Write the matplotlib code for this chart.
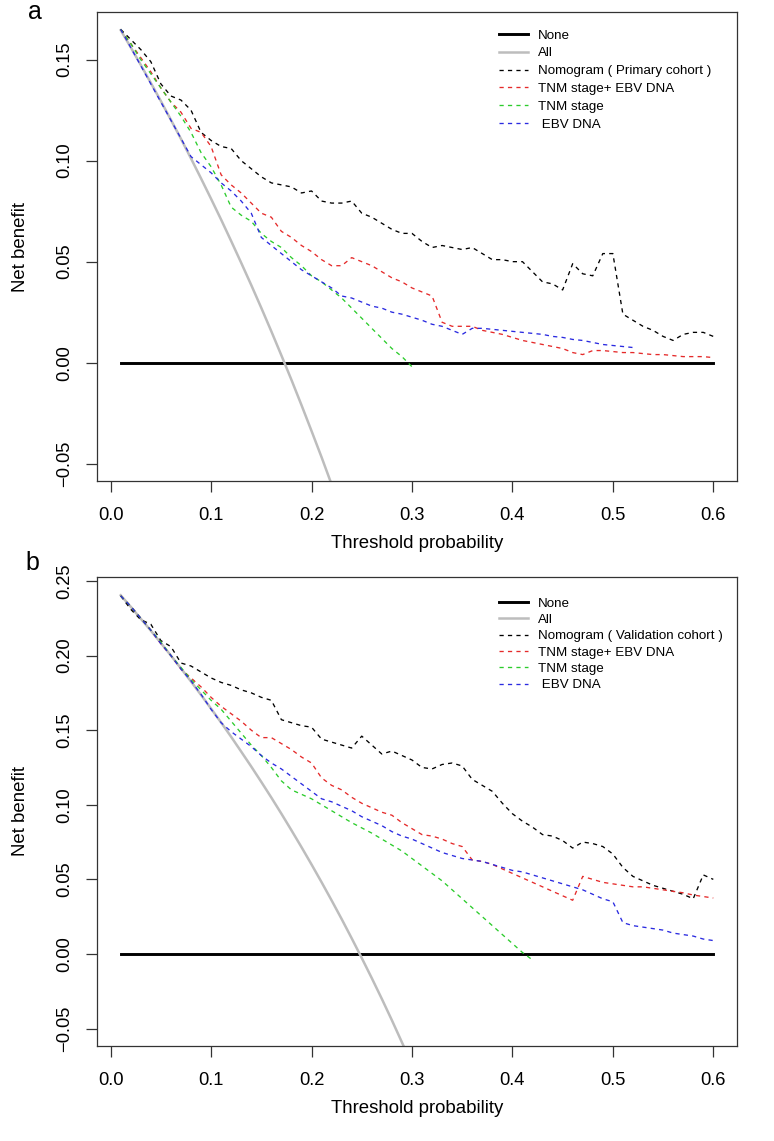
# Decision curve analysis - primary (a) and validation (b) cohorts
#
# Net benefit of the nomogram vs. TNM stage / EBV DNA models,
# drawn as two stacked panels and saved to out.png.

import numpy as np
import matplotlib
matplotlib.use('Agg')
import matplotlib.pyplot as plt

plt.rcParams['font.family'] = ['Liberation Sans', 'DejaVu Sans']

# Threshold probabilities (0.01 .. 0.60 in steps of 0.01)
thresholds = np.round(np.arange(1, 61) / 100, 2)

# ---- Panel a: primary cohort ----
a_all = [0.1646, 0.1561, 0.1474, 0.1385, 0.1295, 0.1202, 0.1108, 0.1011, 0.0912, 0.0811,
         0.0708, 0.0602, 0.0494, 0.0384, 0.0271, 0.0155, 0.0036, -0.0085, -0.0210, -0.0338,
         -0.0468, -0.0603]
a_nomogram = [0.165, 0.160, 0.155, 0.149, 0.138, 0.132, 0.130, 0.125, 0.114, 0.110,
              0.107, 0.106, 0.100, 0.096, 0.092, 0.089, 0.088, 0.087, 0.084, 0.085,
              0.080, 0.079, 0.079, 0.080, 0.074, 0.072, 0.069, 0.066, 0.064, 0.064,
              0.060, 0.057, 0.058, 0.057, 0.056, 0.057, 0.054, 0.051, 0.051, 0.050,
              0.050, 0.045, 0.040, 0.039, 0.036, 0.049, 0.044, 0.043, 0.054, 0.054,
              0.024, 0.021, 0.018, 0.016, 0.013, 0.011, 0.014, 0.015, 0.015, 0.013]
a_tnm_ebv = [0.165, 0.158, 0.151, 0.144, 0.136, 0.129, 0.124, 0.116, 0.114, 0.107,
             0.093, 0.088, 0.084, 0.079, 0.074, 0.072, 0.065, 0.062, 0.058, 0.055,
             0.051, 0.048, 0.048, 0.052, 0.050, 0.048, 0.045, 0.042, 0.040, 0.037,
             0.035, 0.033, 0.020, 0.018, 0.018, 0.018, 0.016, 0.015, 0.014, 0.0125,
             0.011, 0.010, 0.009, 0.008, 0.007, 0.005, 0.004, 0.006, 0.006, 0.0055,
             0.005, 0.005, 0.0045, 0.004, 0.004, 0.0035, 0.003, 0.003, 0.003, 0.0025]
a_tnm = [0.165, 0.158, 0.150, 0.143, 0.136, 0.129, 0.122, 0.114, 0.104, 0.097,
         0.088, 0.077, 0.073, 0.070, 0.064, 0.060, 0.057, 0.052, 0.048, 0.043,
         0.040, 0.036, 0.032, 0.027, 0.022, 0.017, 0.012, 0.007, 0.003, -0.002]
a_ebv = [0.165, 0.156, 0.147, 0.138, 0.129, 0.120, 0.111, 0.102, 0.098, 0.094,
         0.089, 0.085, 0.080, 0.074, 0.062, 0.058, 0.054, 0.050, 0.046, 0.043,
         0.040, 0.037, 0.033, 0.032, 0.030, 0.028, 0.027, 0.025, 0.024, 0.0225,
         0.021, 0.019, 0.018, 0.016, 0.014, 0.017, 0.017, 0.0165, 0.016, 0.0155,
         0.015, 0.0145, 0.014, 0.013, 0.0125, 0.0115, 0.011, 0.010, 0.009, 0.0085,
         0.008, 0.0075]

# ---- Panel b: validation cohort ----
b_all = [0.2404, 0.2327, 0.2247, 0.2167, 0.2084, 0.2000, 0.1914, 0.1826, 0.1736, 0.1644,
         0.1551, 0.1455, 0.1356, 0.1256, 0.1153, 0.1048, 0.0940, 0.0829, 0.0716, 0.0600,
         0.0481, 0.0359, 0.0234, 0.0105, -0.0027, -0.0162, -0.0301, -0.0444, -0.0592, -0.0743]
b_nomogram = [0.240, 0.231, 0.224, 0.221, 0.210, 0.206, 0.195, 0.193, 0.189, 0.185,
              0.182, 0.180, 0.177, 0.175, 0.172, 0.170, 0.157, 0.155, 0.153, 0.152,
              0.144, 0.142, 0.140, 0.138, 0.146, 0.140, 0.134, 0.136, 0.133, 0.130,
              0.125, 0.124, 0.127, 0.128, 0.126, 0.117, 0.113, 0.109, 0.101, 0.094,
              0.089, 0.085, 0.080, 0.079, 0.076, 0.071, 0.075, 0.074, 0.072, 0.067,
              0.058, 0.052, 0.049, 0.046, 0.044, 0.042, 0.040, 0.037, 0.053, 0.050]
b_tnm_ebv = [0.240, 0.233, 0.225, 0.217, 0.208, 0.200, 0.191, 0.185, 0.179, 0.172,
             0.166, 0.161, 0.156, 0.150, 0.145, 0.145, 0.141, 0.137, 0.132, 0.128,
             0.118, 0.113, 0.110, 0.105, 0.101, 0.098, 0.095, 0.093, 0.088, 0.084,
             0.080, 0.079, 0.077, 0.074, 0.072, 0.063, 0.062, 0.060, 0.057, 0.054,
             0.051, 0.048, 0.045, 0.042, 0.039, 0.036, 0.052, 0.050, 0.048, 0.047,
             0.046, 0.045, 0.045, 0.044, 0.043, 0.042, 0.041, 0.0395, 0.0385, 0.0375]
b_tnm = [0.240, 0.233, 0.225, 0.217, 0.209, 0.200, 0.192, 0.184, 0.177, 0.170,
         0.164, 0.156, 0.148, 0.140, 0.133, 0.125, 0.116, 0.110, 0.107, 0.104,
         0.100, 0.096, 0.092, 0.088, 0.0845, 0.081, 0.077, 0.073, 0.069, 0.064,
         0.059, 0.054, 0.049, 0.043, 0.037, 0.031, 0.025, 0.019, 0.013, 0.007,
         0.001, -0.004]
b_ebv = [0.240, 0.233, 0.225, 0.217, 0.208, 0.200, 0.191, 0.183, 0.174, 0.164,
         0.155, 0.149, 0.144, 0.139, 0.133, 0.128, 0.124, 0.119, 0.114, 0.109,
         0.104, 0.102, 0.099, 0.096, 0.092, 0.089, 0.086, 0.082, 0.079, 0.077,
         0.074, 0.071, 0.068, 0.066, 0.064, 0.063, 0.062, 0.060, 0.058, 0.056,
         0.055, 0.053, 0.051, 0.049, 0.047, 0.045, 0.043, 0.040, 0.037, 0.035,
         0.021, 0.019, 0.018, 0.017, 0.016, 0.014, 0.013, 0.012, 0.010, 0.009]

a_yticks = [-0.05, 0.00, 0.05, 0.10, 0.15]
b_yticks = [-0.05, 0.00, 0.05, 0.10, 0.15, 0.20, 0.25]
x_ticks = [0.0, 0.1, 0.2, 0.3, 0.4, 0.5, 0.6]

model_labels = ['TNM stage+ EBV DNA', 'TNM stage', ' EBV DNA']
model_colors = ['#e52a2a', '#2ccc2c', '#2a2ae0']


def r_limits(lo, hi):
    # R-style 4% padding on each side
    pad = (hi - lo) * 0.04
    return lo - pad, hi + pad


def draw_panel(ax, all_nb, nomogram, models, nomo_label, ylo, yhi, yticks, leg_top, leg_gap):
    x = thresholds
    ax.plot(x, np.zeros(len(x)), color='black', linewidth=2.1, label='None')
    ax.plot(x[:len(all_nb)], all_nb, color='#bdbdbd', linewidth=1.8, label='All')
    ax.plot(x[:len(nomogram)], nomogram, color='black', linewidth=0.95,
            dashes=(3.2, 3.2), label=nomo_label)
    for vals, lab, col in zip(models, model_labels, model_colors):
        ax.plot(x[:len(vals)], vals, color=col, linewidth=0.95, dashes=(3.2, 3.2), label=lab)

    ax.set_xlim(*r_limits(0.01, 0.60))
    ax.set_ylim(*r_limits(ylo, yhi))
    ax.set_xticks(x_ticks)
    ax.set_xticklabels([f'{t:.1f}' for t in x_ticks])
    ax.set_yticks(yticks)
    ax.set_yticklabels([f'{t:.2f}'.replace('-', '\u2212') for t in yticks],
                       rotation=90, va='center')
    ax.tick_params(axis='both', direction='out', length=8, width=0.9,
                   color='#333333', labelsize=13.2)
    ax.tick_params(axis='x', pad=11)
    ax.tick_params(axis='y', pad=9)
    for sp in ax.spines.values():
        sp.set_color('#333333')
        sp.set_linewidth(0.9)

    ax.set_xlabel('Threshold probability', fontsize=13.4, va='center')
    ax.xaxis.set_label_coords(0.5, -0.134)
    ax.set_ylabel('Net benefit', fontsize=13.4, va='center')
    ax.yaxis.set_label_coords(-0.120, 0.5)

    ax.legend(loc='upper left', bbox_to_anchor=(0.628, leg_top), frameon=False,
              fontsize=9.6, handlelength=2.2, handletextpad=0.75,
              labelspacing=leg_gap, borderpad=0, borderaxespad=0)


fig = plt.figure(figsize=(7.74, 11.41), dpi=100)
ax_a = fig.add_axes([0.1253, 0.5784, 0.8269, 0.4111])
ax_b = fig.add_axes([0.1253, 0.0833, 0.8269, 0.4110])

draw_panel(ax_a, a_all, a_nomogram, [a_tnm_ebv, a_tnm, a_ebv],
           'Nomogram ( Primary cohort )', -0.05, 0.165, a_yticks, 0.963, 0.41)
draw_panel(ax_b, b_all, b_nomogram, [b_tnm_ebv, b_tnm, b_ebv],
           'Nomogram ( Validation cohort )', -0.05, 0.241, b_yticks, 0.957, 0.3)

fig.text(28 / 774, 1 - 19 / 1141, 'a', fontsize=18, ha='left', va='baseline')
fig.text(25 / 774, 1 - 570 / 1141, 'b', fontsize=18, ha='left', va='baseline')

fig.savefig('out.png', dpi=100)
print("Saved out.png")
